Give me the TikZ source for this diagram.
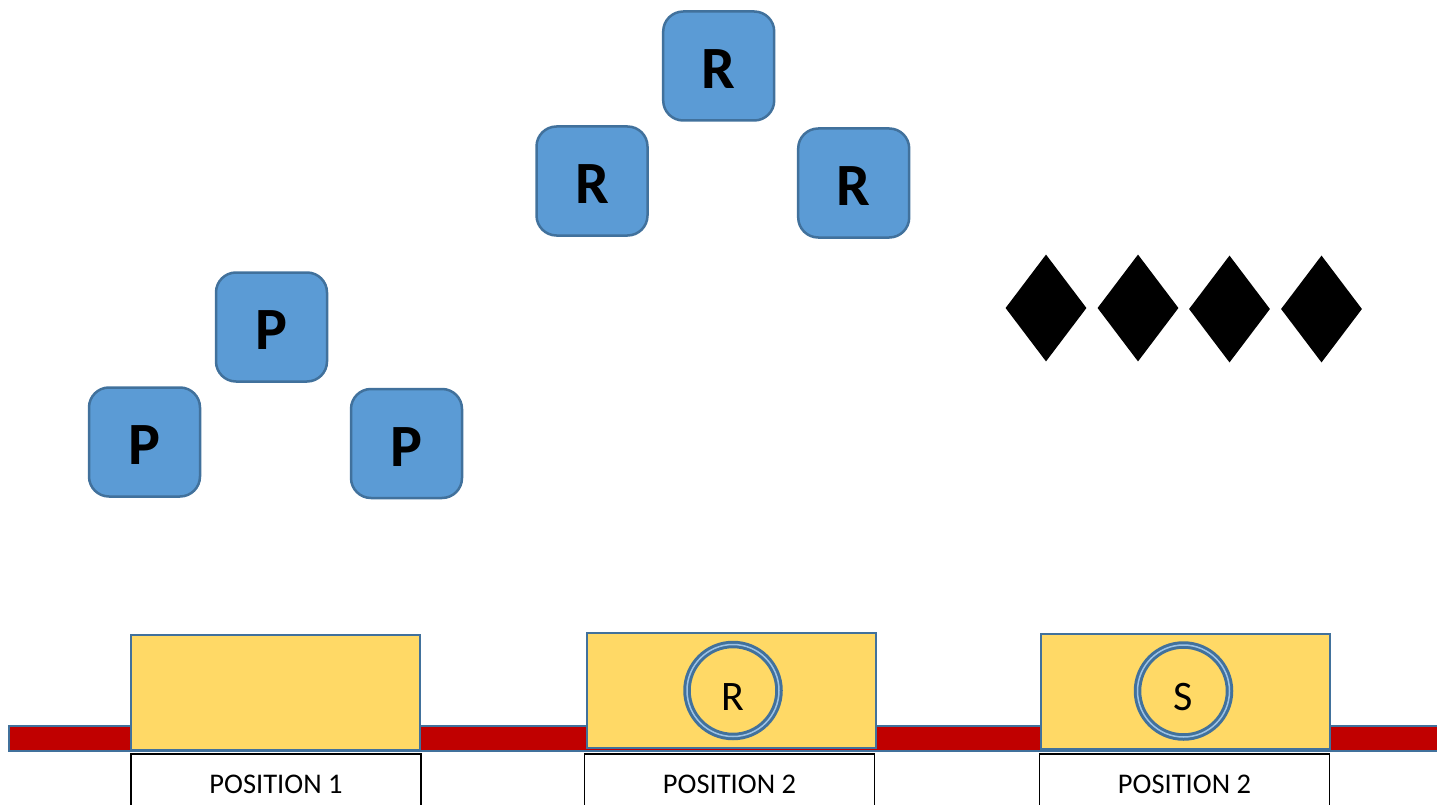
\documentclass[tikz,border=0pt]{standalone}
\usepackage{fontspec}
\setmainfont{Carlito}
\usetikzlibrary{shapes.geometric}
\definecolor{boxblue}{HTML}{5B9BD5}
\definecolor{edgeblue}{HTML}{41719C}
\definecolor{barred}{HTML}{C00000}
\definecolor{padyellow}{HTML}{FFD966}
\definecolor{ringblue}{HTML}{9DC3E6}
\tikzset{
  tile/.style={draw=edgeblue,fill=boxblue,line width=2.5pt,rounded corners=20pt,
    minimum width=111pt,minimum height=109pt,inner sep=0pt,
    font=\fontsize{60}{60}\selectfont\bfseries,text height=45pt,text depth=0pt},
  gem/.style={diamond,fill=black,minimum width=81pt,minimum height=107pt,inner sep=0pt},
  pad/.style={draw=edgeblue,fill=padyellow,line width=2pt,minimum width=289pt,minimum height=115pt,inner sep=0pt},
  tag/.style={draw=black,fill=white,line width=1.8pt,minimum width=290pt,minimum height=60pt,
    font=\fontsize{28.5}{28.5}\selectfont},
  ring/.style={circle,draw=edgeblue,double=ringblue,double distance=1.5pt,line width=3pt,
    minimum size=92pt,inner sep=0pt,font=\fontsize{42}{42}\selectfont,text height=39pt,text depth=0pt},
  rail/.style={draw=edgeblue,fill=barred,line width=2pt}
}
\begin{document}
\begin{tikzpicture}[x=1pt,y=-1pt]
\useasboundingbox (0,0) rectangle (1437,805);
\clip (0,0) rectangle (1437,805);

\node[tile] (p1) at (271.5,327) {P};
\node[tile] (p2) at (144.5,442) {P};
\node[tile] (p3) at (406.5,443.5) {P};

\node[tile] (r1) at (718.7,66) {R};
\node[tile] (r2) at (592,181) {R};
\node[tile] (r3) at (853.7,183) {R};

\foreach \i/\x/\y in {1/1046/308,2/1138/308,3/1229.5/309,4/1321.5/309}
  \node[gem] (d\i) at (\x,\y) {};

\draw[rail] (9,726) rectangle (1450,751);

\node[pad] (pad1) at (275.5,692.5) {};
\node[pad] (pad2) at (731,690) {};
\node[pad] (pad3) at (1185,691) {};

\node[ring] (c2) at (733,690.5) {R};
\node[ring] (c3) at (1183.5,691) {S};

\node[tag] (t1) at (276,784) {POSITION 1};
\node[tag] (t2) at (729.5,784) {POSITION 2};
\node[tag] (t3) at (1184.5,784) {POSITION 2};
\end{tikzpicture}
\end{document}
